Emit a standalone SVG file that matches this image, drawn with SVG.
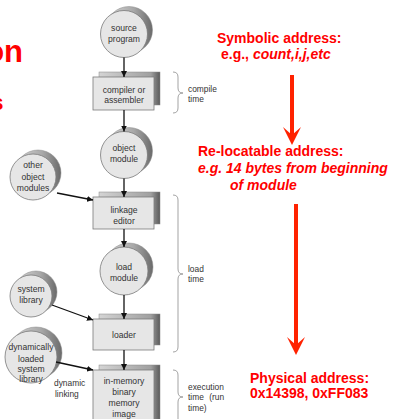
<svg xmlns="http://www.w3.org/2000/svg" width="394" height="419" viewBox="0 0 394 419">
<style>
.n{font-family:"Liberation Sans",Arial,sans-serif;font-size:8.6px;fill:#333;text-anchor:middle}
.s{font-family:"Liberation Sans",Arial,sans-serif;font-size:8.4px;fill:#333}
.r{font-family:"Liberation Sans",Arial,sans-serif;font-size:14px;font-weight:bold;fill:#ff0000}
.i{font-style:italic}
.front{fill:#e6e6e6;stroke:#7a7a7a;stroke-width:0.8}
.csh{fill:url(#cg);stroke:#888;stroke-width:0.5}
.bsh{fill:url(#bg);stroke:#888;stroke-width:0.5}
.c{stroke:#111;stroke-width:1.3;fill:none;marker-end:url(#ah)}
.br{fill:none;stroke:#999;stroke-width:0.9}
.ra{fill:#ff2200}
</style>
<defs>
<linearGradient id="cg" x1="0" y1="0" x2="1" y2="0">
<stop offset="0" stop-color="#d8d8d8"/><stop offset="0.6" stop-color="#a8a8a8"/><stop offset="1" stop-color="#6a6a6a"/>
</linearGradient>
<linearGradient id="bg" x1="0" y1="0" x2="1" y2="0">
<stop offset="0" stop-color="#d4d4d4"/><stop offset="0.85" stop-color="#a0a0a0"/><stop offset="1" stop-color="#5a5a5a"/>
</linearGradient>
<marker id="ah" viewBox="0 0 10 10" refX="10" refY="5" markerWidth="6" markerHeight="6" markerUnits="userSpaceOnUse" orient="auto">
<path d="M0,0 L10,5 L0,10 z" fill="#111"/>
</marker>
</defs>

<g id="title-fragments">
<text class="r" x="23" y="62" text-anchor="end" style="font-size:31px">on</text>
<text class="r" x="3.5" y="110" text-anchor="end" style="font-size:22px">s</text>
</g>

<g id="source">
<circle class="csh" cx="129" cy="30" r="23.5"/>
<circle class="front" cx="124" cy="34" r="23.5"/>
<text class="n" x="124" y="31">source</text>
<text class="n" x="124" y="41.5">program</text>
</g>

<g id="compiler">
<rect class="bsh" x="99" y="72" width="61" height="33"/>
<rect class="front" x="93" y="77" width="61" height="33"/>
<text class="n" x="124" y="93">compiler or</text>
<text class="n" x="124" y="103">assembler</text>
</g>

<g id="object">
<circle class="csh" cx="129" cy="151" r="23.5"/>
<circle class="front" cx="124" cy="155" r="23.5"/>
<text class="n" x="124" y="151">object</text>
<text class="n" x="124" y="162">module</text>
</g>

<g id="other">
<circle class="csh" cx="38" cy="173" r="23"/>
<circle class="front" cx="33" cy="177" r="23"/>
<text class="n" x="33" y="168">other</text>
<text class="n" x="33" y="180">object</text>
<text class="n" x="33" y="191">modules</text>
</g>

<g id="linkage">
<rect class="bsh" x="99" y="192" width="61" height="32"/>
<rect class="front" x="93" y="197" width="61" height="32"/>
<text class="n" x="124" y="213">linkage</text>
<text class="n" x="124" y="223.5">editor</text>
</g>

<g id="load">
<circle class="csh" cx="129" cy="267" r="24"/>
<circle class="front" cx="124" cy="271" r="24"/>
<text class="n" x="124" y="270">load</text>
<text class="n" x="124" y="281">module</text>
</g>

<g id="syslib">
<circle class="csh" cx="36" cy="292" r="21"/>
<circle class="front" cx="31" cy="296" r="21"/>
<text class="n" x="31" y="292">system</text>
<text class="n" x="31" y="303">library</text>
</g>

<g id="loader">
<rect class="bsh" x="99" y="314" width="61" height="31"/>
<rect class="front" x="93" y="319" width="61" height="31"/>
<text class="n" x="124" y="338">loader</text>
</g>

<g id="dynlib">
<circle class="csh" cx="36" cy="353" r="26"/>
<circle class="front" cx="31" cy="357" r="26"/>
<text class="n" x="31" y="350">dynamically</text>
<text class="n" x="31" y="361.5">loaded</text>
<text class="n" x="31" y="372">system</text>
<text class="n" x="31" y="382">library</text>
</g>

<g id="inmemory">
<rect class="bsh" x="99" y="365" width="61" height="60"/>
<rect class="front" x="93" y="370" width="61" height="60"/>
<text class="n" x="124" y="384">in-memory</text>
<text class="n" x="124" y="395">binary</text>
<text class="n" x="124" y="406">memory</text>
<text class="n" x="124" y="416.5">image</text>
</g>

<g id="connectors">
<line class="c" x1="124" y1="57.5" x2="124" y2="77"/>
<line class="c" x1="124" y1="110" x2="124" y2="131.5"/>
<line class="c" x1="124" y1="178.5" x2="124" y2="197"/>
<line class="c" x1="124" y1="229" x2="124" y2="247"/>
<line class="c" x1="124" y1="295" x2="124" y2="319"/>
<line class="c" x1="124" y1="350" x2="124" y2="370"/>
<line class="c" x1="57" y1="193" x2="93" y2="200"/>
<line class="c" x1="52" y1="305" x2="93" y2="320"/>
<line class="c" x1="56" y1="362" x2="93" y2="370"/>
</g>

<g id="dynamic-label">
<text class="s" x="54" y="386">dynamic</text>
<text class="s" x="55" y="396.5">linking</text>
</g>

<g id="braces">
<path class="br" d="M173,72 Q178,72 178,77 L178,88 Q178,93 183,93 Q178,93 178,98 L178,108 Q178,113 173,113"/>
<path class="br" d="M173,195 Q178,195 178,200 L178,269 Q178,274 183,274 Q178,274 178,279 L178,347 Q178,352 173,352"/>
<path class="br" d="M173,370 Q178,370 178,375 L178,392 Q178,397 183,397 Q178,397 178,402 L178,425"/>
<text class="s" x="188" y="92">compile</text>
<text class="s" x="188" y="102">time</text>
<text class="s" x="188" y="272">load</text>
<text class="s" x="188" y="282">time</text>
<text class="s" x="188" y="390">execution</text>
<text class="s" x="188" y="400" word-spacing="3">time (run</text>
<text class="s" x="188" y="411">time)</text>
</g>

<g id="address-notes">
<text class="r" x="217" y="43">Symbolic address:</text>
<text class="r" x="221" y="59">e.g., <tspan class="i">count,i,j,etc</tspan></text>
<rect class="ra" x="290" y="75" width="4" height="60"/>
<polygon class="ra" points="283,127 292,135 301,127 292,145"/>
<text class="r" x="198" y="156">Re-locatable address:</text>
<text class="r i" x="198" y="173">e.g. 14 bytes from beginning</text>
<text class="r i" x="230" y="190">of module</text>
<rect class="ra" x="294" y="204" width="4" height="142"/>
<polygon class="ra" points="287,337 296,345 305,337 296,355"/>
<text class="r" x="250" y="383">Physical address:</text>
<text class="r" x="250" y="398">0x14398, 0xFF083</text>
</g>
</svg>
